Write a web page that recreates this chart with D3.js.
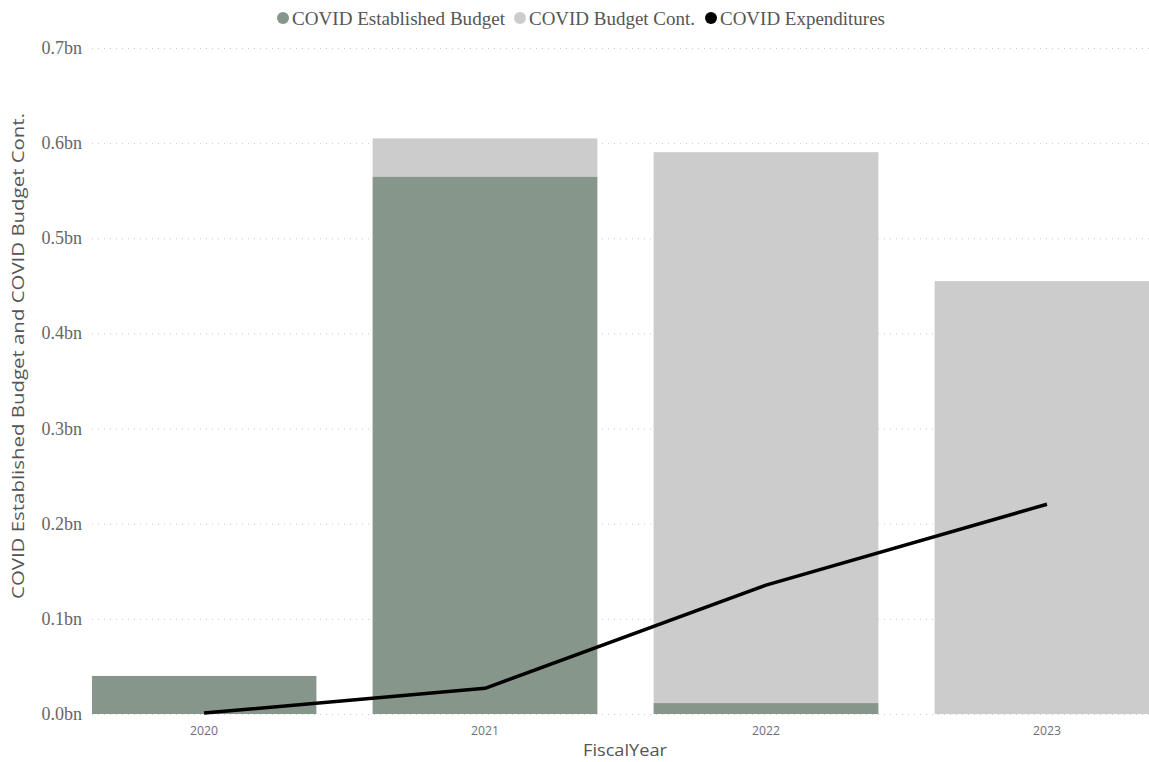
<!DOCTYPE html>
<html><head><meta charset="utf-8">
<script src="https://cdn.jsdelivr.net/npm/d3@7"></script>
<style>body{margin:0;background:#fff}</style>
</head><body>
<svg id="c" width="1149" height="762"></svg>
<script>
const years = ["2020","2021","2022","2023"];
const establishedBudget = [0.040, 0.565, 0.0115, 0];
const budgetCont = [0, 0.040, 0.579, 0.455];
const expenditures = [0.001, 0.027, 0.1355, 0.2205];
const yTicks = [0,0.1,0.2,0.3,0.4,0.5,0.6,0.7];
const seriesNames = ["COVID Established Budget","COVID Budget Cont.","COVID Expenditures"];
const colors = ["#87968A","#CCCCCC","#000000"];

(function(){
const svg = d3.select("#c");
const pLeft = 92, pRight = 1149, pTop = 48, pBottom = 714;
const x = d3.scaleBand().domain(years).range([63.5, 1187.5]).paddingInner(0.2).paddingOuter(0.1);
const y = d3.scaleLinear().domain([0,0.7]).range([pBottom, pTop]);

svg.append("defs").append("clipPath").attr("id","clip")
  .append("rect").attr("x",pLeft).attr("y",0).attr("width",pRight-pLeft).attr("height",pBottom+1);

// grid
svg.append("g").selectAll("line").data(yTicks).join("line")
  .attr("x1",pLeft).attr("x2",pRight).attr("y1",d=>y(d)+0.5).attr("y2",d=>y(d)+0.5)
  .attr("stroke","#c8c8c8").attr("stroke-width",1).attr("stroke-dasharray","1,5");

// y labels
svg.append("g").selectAll("text").data(yTicks).join("text")
  .attr("x",82).attr("y",d=>y(d)+6).attr("text-anchor","end")
  .attr("font-family","Liberation Serif, serif").attr("font-size",18).attr("fill","#666")
  .text(d=>d.toFixed(1)+"bn");

const g = svg.append("g").attr("clip-path","url(#clip)");
const bw = x.bandwidth();
g.selectAll("rect.e").data(years).join("rect").attr("class","e")
  .attr("x",d=>x(d)).attr("width",bw)
  .attr("y",(d,i)=>y(establishedBudget[i])).attr("height",(d,i)=>y(0)-y(establishedBudget[i]))
  .attr("fill",colors[0]);
g.selectAll("rect.c").data(years).join("rect").attr("class","c")
  .attr("x",d=>x(d)).attr("width",bw)
  .attr("y",(d,i)=>y(establishedBudget[i]+budgetCont[i])).attr("height",(d,i)=>y(0)-y(budgetCont[i]))
  .attr("fill",colors[1]);

const line = d3.line().x((d,i)=>x(years[i])+bw/2).y(d=>y(d));
g.append("path").datum(expenditures).attr("d",line).attr("fill","none")
  .attr("stroke","#000").attr("stroke-width",3.5).attr("stroke-linejoin","round");

// x labels
svg.append("g").selectAll("text").data(years).join("text")
  .attr("text-anchor","middle")
  .attr("x",d=>x(d)+bw/2).attr("y",735)
  .attr("font-family","Open Sans, sans-serif").attr("font-size",12).attr("fill","#6b6f78")
  .attr("textLength",28).attr("lengthAdjust","spacingAndGlyphs")
  .text(d=>d);

svg.append("text").attr("text-anchor","middle").attr("x",625).attr("y",756)
  .attr("font-family","Open Sans, sans-serif").attr("font-size",17).attr("fill","#555")
  .attr("textLength",84).attr("lengthAdjust","spacingAndGlyphs")
  .text("FiscalYear");

svg.append("text").attr("transform","translate(24,356) rotate(-90)")
  .attr("text-anchor","middle")
  .attr("font-family","Open Sans, sans-serif").attr("font-size",17).attr("fill","#555")
  .attr("textLength",486).attr("lengthAdjust","spacingAndGlyphs")
  .text("COVID Established Budget and COVID Budget Cont.");

// legend
const legX = [283, 520, 711];
const legW = [213, 166, 165];
const lg = svg.append("g");
seriesNames.forEach((n,i)=>{
  lg.append("circle").attr("cx",legX[i]).attr("cy",18).attr("r",6).attr("fill",colors[i]);
  lg.append("text").attr("x",legX[i]+9).attr("y",25)
    .attr("font-family","Liberation Serif, serif").attr("font-size",19.5).attr("fill","#555")
    .attr("textLength",legW[i]).attr("lengthAdjust","spacingAndGlyphs")
    .text(n);
});
})();
</script>
</body></html>
